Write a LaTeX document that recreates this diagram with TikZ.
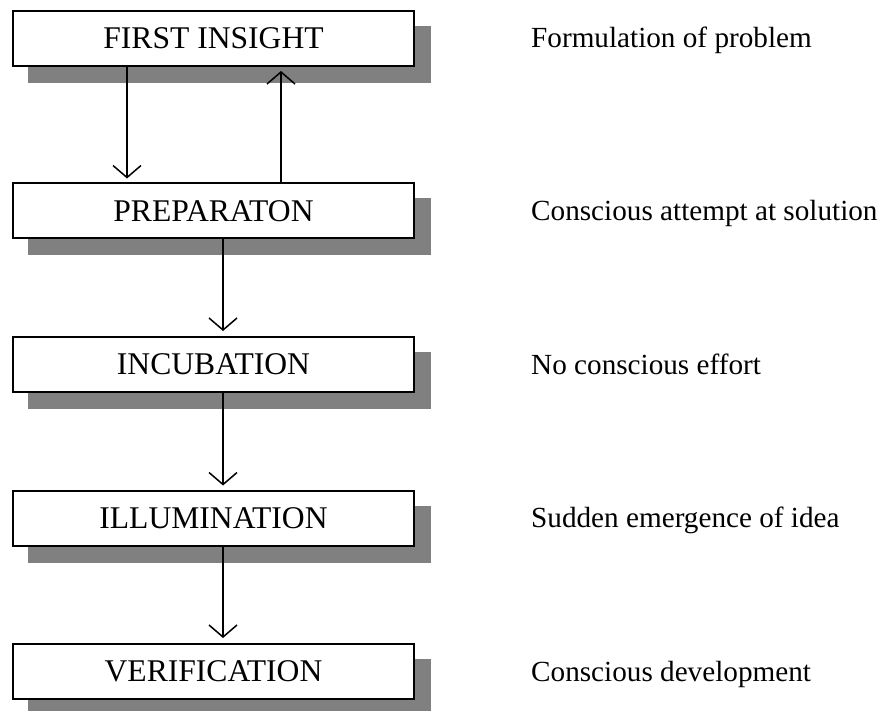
\documentclass[tikz,border=0pt]{standalone}
\usepackage{fontspec}
\setmainfont{Liberation Serif}
\usetikzlibrary{arrows.meta,shadows}
\definecolor{shadowgray}{RGB}{128,128,128}
\tikzset{
  stagebox/.style={draw=black, line width=2pt, fill=white,
    minimum width=401pt, minimum height=55pt, inner sep=0pt,
    font=\fontsize{31.6}{38}\selectfont,
    drop shadow={shadow xshift=16pt, shadow yshift=-16pt,
      fill=shadowgray, draw=shadowgray, line width=2pt, opacity=1}},
  note/.style={inner sep=0pt, anchor=base west,
    font=\fontsize{29.2}{35}\selectfont},
  flow/.style={draw=black, line width=1.5pt,
    -{Straight Barb[length=12pt,width=28pt,line width=1.5pt]}}
}
\begin{document}
\begin{tikzpicture}[x=1pt,y=-1pt]
  \useasboundingbox (0,0) rectangle (881,711);
  % columns used by the connectors and the side notes
  \coordinate (downx) at (127,0);
  \coordinate (upx)   at (281,0);
  \coordinate (mainx) at (223,0);
  \coordinate (notex) at (531,0);

  % stages
  \node[stagebox] (b1) at (213.5,38.5)  {FIRST INSIGHT};
  \node[stagebox] (b2) at (213.5,211)   {PREPARATON};
  \node[stagebox] (b3) at (213.5,364.5) {INCUBATION};
  \node[stagebox] (b4) at (213.5,518)   {ILLUMINATION};
  \node[stagebox] (b5) at (213.5,671.5) {VERIFICATION};

  % side notes
  \node[note] (n1) at ([yshift=-9.5pt]b1.center -| notex) {Formulation of problem};
  \node[note] (n2) at ([yshift=-9.5pt]b2.center -| notex) {Conscious attempt at solution};
  \node[note] (n3) at ([yshift=-9.5pt]b3.center -| notex) {No conscious effort};
  \node[note] (n4) at ([yshift=-9.5pt]b4.center -| notex) {Sudden emergence of idea};
  \node[note] (n5) at ([yshift=-9.5pt]b5.center -| notex) {Conscious development};

  % connectors
  \draw[flow, shorten >=4pt] (b1.south -| downx) -- (b2.north -| downx);
  \draw[flow, shorten >=4pt] (b2.north -| upx) -- (b1.south -| upx);
  \draw[flow, shorten >=5pt] (b2.south -| mainx) -- (b3.north -| mainx);
  \draw[flow, shorten >=4pt] (b3.south -| mainx) -- (b4.north -| mainx);
  \draw[flow, shorten >=5pt] (b4.south -| mainx) -- (b5.north -| mainx);
\end{tikzpicture}
\end{document}
